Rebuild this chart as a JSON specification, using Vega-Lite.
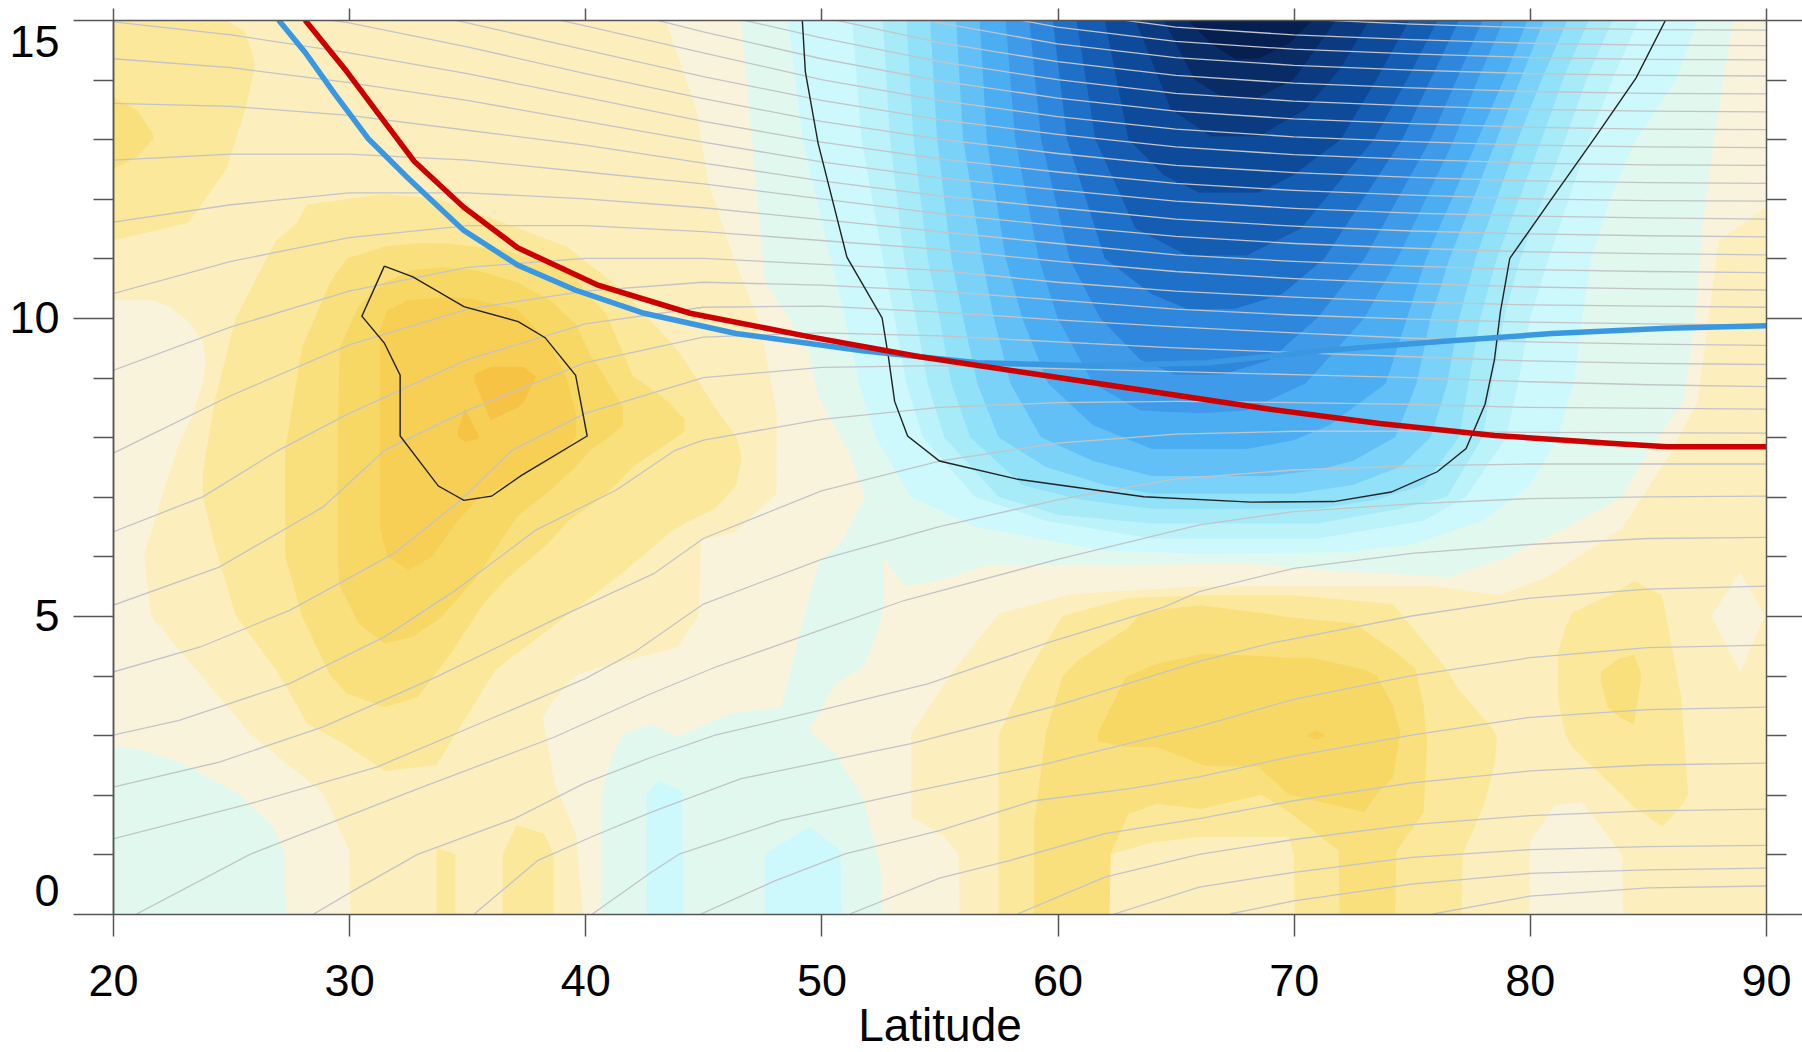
{
"$schema":"https://vega.github.io/schema/vega-lite/v6.json",
"width":1653,"height":894,
"autosize":{"type":"none"},
"padding":{"left":113,"top":20,"right":36,"bottom":138},
"config":{"view":{"stroke":null,"fill":"#fcefbd"},"axis":{"labelFont":"Liberation Sans","titleFont":"Liberation Sans","grid":false,"zindex":2}},
"resolve":{"axis":{"x":"independent","y":"independent"}},
"datasets":{
"fills":[
{"s":"CL1","lv":"c0","lat":20,"lo":0,"hi":6.0},{"s":"CL1","lv":"c0","lat":21.3,"lo":0,"hi":6.1},{"s":"CL1","lv":"c0","lat":21.6,"lo":0,"hi":5.0},{"s":"CL1","lv":"c0","lat":23.3,"lo":0,"hi":4.2},{"s":"CL1","lv":"c0","lat":25.8,"lo":0,"hi":3.03},{"s":"CL1","lv":"c0","lat":28.9,"lo":0,"hi":2.02},{"s":"CL1","lv":"c0","lat":30.0,"lo":0,"hi":1.07},{"s":"CL1","lv":"c0","lat":30.05,"lo":0,"hi":0},
{"s":"CL2","lv":"c0","lat":20,"lo":5.9,"hi":10.3},{"s":"CL2","lv":"c0","lat":21.3,"lo":6.0,"hi":10.3},{"s":"CL2","lv":"c0","lat":21.6,"lo":6.4,"hi":10.3},{"s":"CL2","lv":"c0","lat":22.3,"lo":7.3,"hi":10.2},{"s":"CL2","lv":"c0","lat":22.8,"lo":7.9,"hi":10.07},{"s":"CL2","lv":"c0","lat":23.3,"lo":8.3,"hi":9.9},{"s":"CL2","lv":"c0","lat":23.8,"lo":8.9,"hi":9.6},{"s":"CL2","lv":"c0","lat":23.9,"lo":9.2,"hi":9.3},
{"s":"CA","lv":"c0","lat":38.2,"lo":3.3,"hi":3.3},{"s":"CA","lv":"c0","lat":38.7,"lo":2.2,"hi":3.6},{"s":"CA","lv":"c0","lat":39.6,"lo":1.35,"hi":4.0},{"s":"CA","lv":"c0","lat":39.9,"lo":0,"hi":4.05},{"s":"CA","lv":"c0","lat":40.7,"lo":0,"hi":4.14},{"s":"CA","lv":"c0","lat":43.9,"lo":0,"hi":4.48},{"s":"CA","lv":"c0","lat":44.8,"lo":0,"hi":5.0},{"s":"CA","lv":"c0","lat":44.9,"lo":0,"hi":6.27},{"s":"CA","lv":"c0","lat":46.3,"lo":0,"hi":6.4},{"s":"CA","lv":"c0","lat":48.1,"lo":0,"hi":7.05},{"s":"CA","lv":"c0","lat":48.2,"lo":0,"hi":15},{"s":"CA","lv":"c0","lat":90,"lo":0,"hi":15},
{"s":"CB","lv":"c0","lat":43.4,"lo":15,"hi":15},{"s":"CB","lv":"c0","lat":44.7,"lo":13.5,"hi":15},{"s":"CB","lv":"c0","lat":45.2,"lo":12.3,"hi":15},{"s":"CB","lv":"c0","lat":46.3,"lo":11.0,"hi":15},{"s":"CB","lv":"c0","lat":47.4,"lo":9.9,"hi":15},{"s":"CB","lv":"c0","lat":48.3,"lo":8.0,"hi":15},
{"s":"L1R","lv":"y1","lat":53.8,"lo":1.63,"hi":3.03},{"s":"L1R","lv":"y1","lat":55.2,"lo":1.3,"hi":3.86},{"s":"L1R","lv":"y1","lat":55.8,"lo":1.01,"hi":4.2},{"s":"L1R","lv":"y1","lat":55.85,"lo":0,"hi":4.2},{"s":"L1R","lv":"y1","lat":57.5,"lo":0,"hi":5.04},{"s":"L1R","lv":"y1","lat":60.6,"lo":0,"hi":5.37},{"s":"L1R","lv":"y1","lat":66,"lo":0,"hi":5.5},{"s":"L1R","lv":"y1","lat":76,"lo":0,"hi":5.5},{"s":"L1R","lv":"y1","lat":78.7,"lo":0,"hi":5.35},{"s":"L1R","lv":"y1","lat":80.7,"lo":0,"hi":5.65},{"s":"L1R","lv":"y1","lat":83.9,"lo":0,"hi":6.47},{"s":"L1R","lv":"y1","lat":86.0,"lo":0,"hi":7.76},{"s":"L1R","lv":"y1","lat":87.1,"lo":0,"hi":8.6},{"s":"L1R","lv":"y1","lat":87.3,"lo":0,"hi":9.2},{"s":"L1R","lv":"y1","lat":88,"lo":0,"hi":11.3},{"s":"L1R","lv":"y1","lat":90,"lo":0,"hi":11.86},
{"s":"CP1","lv":"c0b","lat":80.0,"lo":0,"hi":1.2},{"s":"CP1","lv":"c0b","lat":81.05,"lo":0,"hi":1.82},{"s":"CP1","lv":"c0b","lat":82.2,"lo":0,"hi":1.88},{"s":"CP1","lv":"c0b","lat":83.9,"lo":0,"hi":1.0},{"s":"CP1","lv":"c0b","lat":83.95,"lo":0,"hi":0},
{"s":"CP2","lv":"c0b","lat":87.7,"lo":5.0,"hi":5.0},{"s":"CP2","lv":"c0b","lat":88.9,"lo":4.06,"hi":5.74},{"s":"CP2","lv":"c0b","lat":89.95,"lo":5.0,"hi":5.0},
{"s":"Y2TL","lv":"y2","lat":20,"lo":11.3,"hi":15},{"s":"Y2TL","lv":"y2","lat":23.2,"lo":11.6,"hi":15},{"s":"Y2TL","lv":"y2","lat":24.8,"lo":12.5,"hi":15},{"s":"Y2TL","lv":"y2","lat":25.6,"lo":13.5,"hi":14.8},{"s":"Y2TL","lv":"y2","lat":26.0,"lo":14.2,"hi":14.3},
{"s":"Y2B","lv":"y2","lat":23.8,"lo":7.0,"hi":7.4},{"s":"Y2B","lv":"y2","lat":24.3,"lo":6.2,"hi":8.6},{"s":"Y2B","lv":"y2","lat":25.2,"lo":5.0,"hi":10.0},{"s":"Y2B","lv":"y2","lat":26.9,"lo":4.1,"hi":11.3},{"s":"Y2B","lv":"y2","lat":27.8,"lo":3.5,"hi":11.6},{"s":"Y2B","lv":"y2","lat":28.2,"lo":3.2,"hi":11.9},{"s":"Y2B","lv":"y2","lat":30,"lo":2.8,"hi":12.0},{"s":"Y2B","lv":"y2","lat":31.5,"lo":2.4,"hi":12.08},{"s":"Y2B","lv":"y2","lat":33.7,"lo":2.5,"hi":12.0},{"s":"Y2B","lv":"y2","lat":36.2,"lo":4.1,"hi":11.65},{"s":"Y2B","lv":"y2","lat":39.2,"lo":5.0,"hi":11.2},{"s":"Y2B","lv":"y2","lat":41.5,"lo":5.7,"hi":10.5},{"s":"Y2B","lv":"y2","lat":43.6,"lo":6.4,"hi":9.6},{"s":"Y2B","lv":"y2","lat":44.2,"lo":6.55,"hi":9.3},{"s":"Y2B","lv":"y2","lat":45.5,"lo":6.8,"hi":8.5},{"s":"Y2B","lv":"y2","lat":46.4,"lo":7.2,"hi":8.0},{"s":"Y2B","lv":"y2","lat":46.6,"lo":7.6,"hi":7.7},
{"s":"Y2C1","lv":"y2","lat":33.7,"lo":0,"hi":1.12},{"s":"Y2C1","lv":"y2","lat":34.5,"lo":0,"hi":1.0},
{"s":"Y2C2","lv":"y2","lat":36.5,"lo":0,"hi":1.01},{"s":"Y2C2","lv":"y2","lat":37.1,"lo":0,"hi":1.49},{"s":"Y2C2","lv":"y2","lat":38.25,"lo":0,"hi":1.35},{"s":"Y2C2","lv":"y2","lat":38.66,"lo":0,"hi":1.01},
{"s":"Y2LR","lv":"y2","lat":57.5,"lo":0,"hi":3.0},{"s":"Y2LR","lv":"y2","lat":58.7,"lo":0,"hi":4.03},{"s":"Y2LR","lv":"y2","lat":60.2,"lo":0,"hi":5.0},{"s":"Y2LR","lv":"y2","lat":63,"lo":0,"hi":5.3},{"s":"Y2LR","lv":"y2","lat":66,"lo":0,"hi":5.35},{"s":"Y2LR","lv":"y2","lat":70,"lo":0,"hi":5.35},{"s":"Y2LR","lv":"y2","lat":74.2,"lo":0,"hi":5.2},{"s":"Y2LR","lv":"y2","lat":76.45,"lo":0,"hi":4.12},{"s":"Y2LR","lv":"y2","lat":77.1,"lo":0,"hi":3.7},{"s":"Y2LR","lv":"y2","lat":77.15,"lo":1.0,"hi":3.7},{"s":"Y2LR","lv":"y2","lat":78.1,"lo":1.88,"hi":3.25},{"s":"Y2LR","lv":"y2","lat":78.5,"lo":2.5,"hi":3.06},{"s":"Y2LR","lv":"y2","lat":78.6,"lo":2.9,"hi":2.95},
{"s":"Y2RB","lv":"y2","lat":81.2,"lo":3.6,"hi":4.4},{"s":"Y2RB","lv":"y2","lat":81.5,"lo":3.0,"hi":4.8},{"s":"Y2RB","lv":"y2","lat":81.8,"lo":2.8,"hi":5.06},{"s":"Y2RB","lv":"y2","lat":83.9,"lo":2.0,"hi":5.45},{"s":"Y2RB","lv":"y2","lat":84.4,"lo":1.8,"hi":5.59},{"s":"Y2RB","lv":"y2","lat":85.6,"lo":1.47,"hi":5.35},{"s":"Y2RB","lv":"y2","lat":86.4,"lo":1.8,"hi":3.65},{"s":"Y2RB","lv":"y2","lat":86.7,"lo":2.0,"hi":2.05},
{"s":"N1","lv":"y1b","lat":62.2,"lo":0,"hi":1.0},{"s":"N1","lv":"y1b","lat":64,"lo":0,"hi":1.2},{"s":"N1","lv":"y1b","lat":66,"lo":0,"hi":1.29},{"s":"N1","lv":"y1b","lat":69.8,"lo":0,"hi":1.29},{"s":"N1","lv":"y1b","lat":70.0,"lo":0,"hi":1.0},{"s":"N1","lv":"y1b","lat":70.05,"lo":0,"hi":0},
{"s":"Y3TL","lv":"y3","lat":20,"lo":12.5,"hi":13.7},{"s":"Y3TL","lv":"y3","lat":21.0,"lo":12.7,"hi":13.5},{"s":"Y3TL","lv":"y3","lat":21.7,"lo":13.0,"hi":13.08},
{"s":"Y3B","lv":"y3","lat":27.3,"lo":6.0,"hi":7.8},{"s":"Y3B","lv":"y3","lat":28.0,"lo":5.0,"hi":9.5},{"s":"Y3B","lv":"y3","lat":29.2,"lo":4.0,"hi":10.6},{"s":"Y3B","lv":"y3","lat":29.9,"lo":3.7,"hi":11.0},{"s":"Y3B","lv":"y3","lat":31.5,"lo":3.47,"hi":11.2},{"s":"Y3B","lv":"y3","lat":32.9,"lo":3.64,"hi":11.26},{"s":"Y3B","lv":"y3","lat":34.2,"lo":4.31,"hi":11.25},{"s":"Y3B","lv":"y3","lat":35.7,"lo":5.21,"hi":11.18},{"s":"Y3B","lv":"y3","lat":36.6,"lo":5.6,"hi":11.14},{"s":"Y3B","lv":"y3","lat":38.4,"lo":6.21,"hi":10.9},{"s":"Y3B","lv":"y3","lat":39.3,"lo":6.6,"hi":10.78},{"s":"Y3B","lv":"y3","lat":40.9,"lo":7.05,"hi":10.06},{"s":"Y3B","lv":"y3","lat":42.0,"lo":7.5,"hi":9.04},{"s":"Y3B","lv":"y3","lat":43.5,"lo":7.9,"hi":8.6},{"s":"Y3B","lv":"y3","lat":44.2,"lo":8.1,"hi":8.3},
{"s":"Y3LR","lv":"y3","lat":59.0,"lo":0,"hi":1.5},{"s":"Y3LR","lv":"y3","lat":59.5,"lo":0,"hi":3.03},{"s":"Y3LR","lv":"y3","lat":60.2,"lo":0,"hi":3.98},{"s":"Y3LR","lv":"y3","lat":60.9,"lo":0,"hi":4.26},{"s":"Y3LR","lv":"y3","lat":62.2,"lo":0,"hi":4.6},{"s":"Y3LR","lv":"y3","lat":62.25,"lo":1.01,"hi":4.62},{"s":"Y3LR","lv":"y3","lat":63.0,"lo":1.68,"hi":4.8},{"s":"Y3LR","lv":"y3","lat":63.5,"lo":1.75,"hi":5.04},{"s":"Y3LR","lv":"y3","lat":64.2,"lo":1.85,"hi":5.1},{"s":"Y3LR","lv":"y3","lat":66.05,"lo":1.76,"hi":5.18},{"s":"Y3LR","lv":"y3","lat":68.65,"lo":2.0,"hi":5.05},{"s":"Y3LR","lv":"y3","lat":69.8,"lo":1.71,"hi":4.98},{"s":"Y3LR","lv":"y3","lat":71.9,"lo":1.06,"hi":4.9},{"s":"Y3LR","lv":"y3","lat":71.95,"lo":0,"hi":4.9},{"s":"Y3LR","lv":"y3","lat":72.55,"lo":0,"hi":4.88},{"s":"Y3LR","lv":"y3","lat":74.3,"lo":0,"hi":4.4},{"s":"Y3LR","lv":"y3","lat":74.35,"lo":1.06,"hi":4.38},{"s":"Y3LR","lv":"y3","lat":75.15,"lo":1.5,"hi":4.12},{"s":"Y3LR","lv":"y3","lat":75.5,"lo":1.71,"hi":3.5},{"s":"Y3LR","lv":"y3","lat":75.6,"lo":2.5,"hi":3.06},{"s":"Y3LR","lv":"y3","lat":75.65,"lo":2.9,"hi":2.95},
{"s":"Y3RB","lv":"y3","lat":83.0,"lo":3.9,"hi":4.05},{"s":"Y3RB","lv":"y3","lat":83.3,"lo":3.47,"hi":4.15},{"s":"Y3RB","lv":"y3","lat":83.8,"lo":3.3,"hi":4.29},{"s":"Y3RB","lv":"y3","lat":84.4,"lo":3.18,"hi":4.35},{"s":"Y3RB","lv":"y3","lat":84.7,"lo":3.9,"hi":4.05},
{"s":"Y4B","lv":"y4","lat":29.5,"lo":6.0,"hi":7.8},{"s":"Y4B","lv":"y4","lat":29.6,"lo":5.5,"hi":9.5},{"s":"Y4B","lv":"y4","lat":30.4,"lo":4.87,"hi":10.2},{"s":"Y4B","lv":"y4","lat":31.5,"lo":4.54,"hi":10.6},{"s":"Y4B","lv":"y4","lat":32.7,"lo":4.65,"hi":10.8},{"s":"Y4B","lv":"y4","lat":33.9,"lo":4.98,"hi":10.85},{"s":"Y4B","lv":"y4","lat":35.4,"lo":5.65,"hi":10.8},{"s":"Y4B","lv":"y4","lat":37.1,"lo":6.66,"hi":10.6},{"s":"Y4B","lv":"y4","lat":38.5,"lo":7.1,"hi":10.3},{"s":"Y4B","lv":"y4","lat":39.6,"lo":7.5,"hi":9.9},{"s":"Y4B","lv":"y4","lat":40.2,"lo":7.78,"hi":9.4},{"s":"Y4B","lv":"y4","lat":41.0,"lo":8.0,"hi":8.9},{"s":"Y4B","lv":"y4","lat":41.6,"lo":8.2,"hi":8.5},
{"s":"Y4LR","lv":"y4","lat":61.7,"lo":2.9,"hi":3.03},{"s":"Y4LR","lv":"y4","lat":62.9,"lo":2.8,"hi":3.98},{"s":"Y4LR","lv":"y4","lat":64.2,"lo":2.8,"hi":4.2},{"s":"Y4LR","lv":"y4","lat":66.2,"lo":2.49,"hi":4.37},{"s":"Y4LR","lv":"y4","lat":68.5,"lo":2.47,"hi":4.33},{"s":"Y4LR","lv":"y4","lat":69.8,"lo":2.0,"hi":4.3},{"s":"Y4LR","lv":"y4","lat":70.9,"lo":1.9,"hi":4.29},{"s":"Y4LR","lv":"y4","lat":73.0,"lo":1.71,"hi":4.1},{"s":"Y4LR","lv":"y4","lat":73.5,"lo":2.0,"hi":4.0},{"s":"Y4LR","lv":"y4","lat":74.2,"lo":2.29,"hi":3.5},{"s":"Y4LR","lv":"y4","lat":74.5,"lo":3.0,"hi":3.06},
{"s":"Y5B","lv":"y5","lat":31.3,"lo":6.5,"hi":9.8},{"s":"Y5B","lv":"y5","lat":31.6,"lo":6.0,"hi":10.12},{"s":"Y5B","lv":"y5","lat":32.5,"lo":5.77,"hi":10.3},{"s":"Y5B","lv":"y5","lat":33.5,"lo":5.99,"hi":10.33},{"s":"Y5B","lv":"y5","lat":34.5,"lo":6.55,"hi":10.35},{"s":"Y5B","lv":"y5","lat":35.4,"lo":6.94,"hi":10.3},{"s":"Y5B","lv":"y5","lat":37.1,"lo":7.33,"hi":10.15},{"s":"Y5B","lv":"y5","lat":38.5,"lo":7.6,"hi":9.58},{"s":"Y5B","lv":"y5","lat":39.2,"lo":7.78,"hi":9.0},{"s":"Y5B","lv":"y5","lat":39.6,"lo":8.0,"hi":8.4},
{"s":"Y5LR","lv":"y5","lat":70.6,"lo":2.98,"hi":3.02},{"s":"Y5LR","lv":"y5","lat":70.9,"lo":2.92,"hi":3.08},{"s":"Y5LR","lv":"y5","lat":71.3,"lo":2.98,"hi":3.02},
{"s":"Y6P1","lv":"y6","lat":35.3,"lo":8.95,"hi":9.05},{"s":"Y6P1","lv":"y6","lat":36.0,"lo":8.28,"hi":9.18},{"s":"Y6P1","lv":"y6","lat":37.2,"lo":8.51,"hi":9.18},{"s":"Y6P1","lv":"y6","lat":37.4,"lo":8.6,"hi":9.18},{"s":"Y6P1","lv":"y6","lat":37.9,"lo":9.0,"hi":9.02},
{"s":"Y6P2","lv":"y6","lat":34.6,"lo":8.02,"hi":8.1},{"s":"Y6P2","lv":"y6","lat":34.9,"lo":7.92,"hi":8.48},{"s":"Y6P2","lv":"y6","lat":35.5,"lo":7.98,"hi":8.02},
{"s":"MBL","lv":"m1","lat":20,"lo":0,"hi":2.8},{"s":"MBL","lv":"m1","lat":21.1,"lo":0,"hi":2.77},{"s":"MBL","lv":"m1","lat":22.8,"lo":0,"hi":2.55},{"s":"MBL","lv":"m1","lat":25.3,"lo":0,"hi":2.02},{"s":"MBL","lv":"m1","lat":26.8,"lo":0,"hi":1.46},{"s":"MBL","lv":"m1","lat":27.3,"lo":0,"hi":0.96},{"s":"MBL","lv":"m1","lat":27.35,"lo":0,"hi":0},
{"s":"MLOW","lv":"m1","lat":40.7,"lo":0,"hi":2.02},{"s":"MLOW","lv":"m1","lat":41.1,"lo":0,"hi":2.6},{"s":"MLOW","lv":"m1","lat":41.6,"lo":0,"hi":3.03},{"s":"MLOW","lv":"m1","lat":42.8,"lo":0,"hi":3.19},{"s":"MLOW","lv":"m1","lat":43.9,"lo":0,"hi":2.97},{"s":"MLOW","lv":"m1","lat":46.1,"lo":0,"hi":3.36},{"s":"MLOW","lv":"m1","lat":48.3,"lo":0,"hi":3.47},{"s":"MLOW","lv":"m1","lat":49.3,"lo":0,"hi":5.04},{"s":"MLOW","lv":"m1","lat":49.9,"lo":0,"hi":5.88},{"s":"MLOW","lv":"m1","lat":50.9,"lo":0,"hi":6.27},{"s":"MLOW","lv":"m1","lat":51.85,"lo":0,"hi":7.0},{"s":"MLOW","lv":"m1","lat":52.6,"lo":0,"hi":7.5},{"s":"MLOW","lv":"m1","lat":52.65,"lo":5.0,"hi":7.5},
{"s":"MUP","lv":"m1","lat":46.6,"lo":15,"hi":15},{"s":"MUP","lv":"m1","lat":47.6,"lo":10.63,"hi":15},{"s":"MUP","lv":"m1","lat":49.4,"lo":9.51,"hi":15},{"s":"MUP","lv":"m1","lat":49.9,"lo":8.67,"hi":15},{"s":"MUP","lv":"m1","lat":51.2,"lo":7.72,"hi":15},{"s":"MUP","lv":"m1","lat":51.85,"lo":7.0,"hi":15},{"s":"MUP","lv":"m1","lat":52.6,"lo":6.0,"hi":15},{"s":"MUP","lv":"m1","lat":53.5,"lo":5.5,"hi":15},{"s":"MUP","lv":"m1","lat":55,"lo":5.6,"hi":15},{"s":"MUP","lv":"m1","lat":57,"lo":5.85,"hi":15},{"s":"MUP","lv":"m1","lat":62,"lo":5.85,"hi":15},{"s":"MUP","lv":"m1","lat":68,"lo":5.88,"hi":15},{"s":"MUP","lv":"m1","lat":72,"lo":5.75,"hi":15},{"s":"MUP","lv":"m1","lat":76.6,"lo":5.65,"hi":15},{"s":"MUP","lv":"m1","lat":79.1,"lo":6.0,"hi":15},{"s":"MUP","lv":"m1","lat":81.5,"lo":6.47,"hi":15},{"s":"MUP","lv":"m1","lat":83.9,"lo":7.0,"hi":15},{"s":"MUP","lv":"m1","lat":85.2,"lo":7.88,"hi":15},{"s":"MUP","lv":"m1","lat":86.5,"lo":8.6,"hi":15},{"s":"MUP","lv":"m1","lat":87.0,"lo":10.0,"hi":15},{"s":"MUP","lv":"m1","lat":87.3,"lo":11.5,"hi":15},{"s":"MUP","lv":"m1","lat":87.8,"lo":13.0,"hi":15},{"s":"MUP","lv":"m1","lat":88.3,"lo":14.2,"hi":15},{"s":"MUP","lv":"m1","lat":88.6,"lo":15,"hi":15},
{"s":"NOTCH","lv":"c0c","lat":49.5,"lo":3.05,"hi":3.1},{"s":"NOTCH","lv":"c0c","lat":50.6,"lo":2.69,"hi":3.87},{"s":"NOTCH","lv":"c0c","lat":51.8,"lo":1.91,"hi":4.15},{"s":"NOTCH","lv":"c0c","lat":52.5,"lo":0.79,"hi":4.9},{"s":"NOTCH","lv":"c0c","lat":52.6,"lo":0,"hi":5.1},{"s":"NOTCH","lv":"c0c","lat":52.7,"lo":0,"hi":5.2},
{"s":"BP1","lv":"b2","lat":42.6,"lo":0,"hi":2.02},{"s":"BP1","lv":"b2","lat":43.1,"lo":0,"hi":2.24},{"s":"BP1","lv":"b2","lat":44.1,"lo":0,"hi":2.05},{"s":"BP1","lv":"b2","lat":44.15,"lo":0,"hi":0},
{"s":"BP2","lv":"b2","lat":47.6,"lo":0,"hi":1.01},{"s":"BP2","lv":"b2","lat":49.5,"lo":0,"hi":1.46},{"s":"BP2","lv":"b2","lat":50.8,"lo":0,"hi":1.07},{"s":"BP2","lv":"b2","lat":50.85,"lo":0,"hi":0},
{"s":"U2","lv":"b2","lat":48.6,"lo":15,"hi":15},{"s":"U2","lv":"b2","lat":49.2,"lo":13,"hi":15},{"s":"U2","lv":"b2","lat":50.4,"lo":11,"hi":15},{"s":"U2","lv":"b2","lat":51.0,"lo":10,"hi":15},{"s":"U2","lv":"b2","lat":51.6,"lo":8.9,"hi":15},{"s":"U2","lv":"b2","lat":52.3,"lo":8.0,"hi":15},{"s":"U2","lv":"b2","lat":53.8,"lo":7.0,"hi":15},{"s":"U2","lv":"b2","lat":56.5,"lo":6.5,"hi":15},{"s":"U2","lv":"b2","lat":62,"lo":6.1,"hi":15},{"s":"U2","lv":"b2","lat":66,"lo":6.05,"hi":15},{"s":"U2","lv":"b2","lat":72,"lo":6.07,"hi":15},{"s":"U2","lv":"b2","lat":75,"lo":6.2,"hi":15},{"s":"U2","lv":"b2","lat":78,"lo":6.6,"hi":15},{"s":"U2","lv":"b2","lat":80,"lo":7.2,"hi":15},{"s":"U2","lv":"b2","lat":81.2,"lo":8,"hi":15},{"s":"U2","lv":"b2","lat":81.9,"lo":9,"hi":15},{"s":"U2","lv":"b2","lat":82.2,"lo":10,"hi":15},{"s":"U2","lv":"b2","lat":82.6,"lo":11,"hi":15},{"s":"U2","lv":"b2","lat":83.4,"lo":12,"hi":15},{"s":"U2","lv":"b2","lat":84.5,"lo":13,"hi":15},{"s":"U2","lv":"b2","lat":86.2,"lo":14,"hi":15},{"s":"U2","lv":"b2","lat":87.1,"lo":15,"hi":15},
{"s":"U3","lv":"b3","lat":51.3,"lo":15,"hi":15},{"s":"U3","lv":"b3","lat":51.7,"lo":13,"hi":15},{"s":"U3","lv":"b3","lat":52.6,"lo":11,"hi":15},{"s":"U3","lv":"b3","lat":53.1,"lo":10,"hi":15},{"s":"U3","lv":"b3","lat":53.6,"lo":8.9,"hi":15},{"s":"U3","lv":"b3","lat":54.3,"lo":8,"hi":15},{"s":"U3","lv":"b3","lat":56.5,"lo":7,"hi":15},{"s":"U3","lv":"b3","lat":59.5,"lo":6.6,"hi":15},{"s":"U3","lv":"b3","lat":64,"lo":6.3,"hi":15},{"s":"U3","lv":"b3","lat":71,"lo":6.3,"hi":15},{"s":"U3","lv":"b3","lat":75.5,"lo":6.6,"hi":15},{"s":"U3","lv":"b3","lat":77.3,"lo":7,"hi":15},{"s":"U3","lv":"b3","lat":79,"lo":8,"hi":15},{"s":"U3","lv":"b3","lat":79.5,"lo":8.9,"hi":15},{"s":"U3","lv":"b3","lat":80,"lo":10,"hi":15},{"s":"U3","lv":"b3","lat":80.8,"lo":11,"hi":15},{"s":"U3","lv":"b3","lat":82.5,"lo":13,"hi":15},{"s":"U3","lv":"b3","lat":83.5,"lo":14,"hi":15},{"s":"U3","lv":"b3","lat":84.6,"lo":15,"hi":15},
{"s":"U4","lv":"b4","lat":52.6,"lo":15,"hi":15},{"s":"U4","lv":"b4","lat":52.9,"lo":13,"hi":15},{"s":"U4","lv":"b4","lat":53.5,"lo":11,"hi":15},{"s":"U4","lv":"b4","lat":54.0,"lo":10,"hi":15},{"s":"U4","lv":"b4","lat":54.5,"lo":8.9,"hi":15},{"s":"U4","lv":"b4","lat":55.2,"lo":8,"hi":15},{"s":"U4","lv":"b4","lat":57.5,"lo":7,"hi":15},{"s":"U4","lv":"b4","lat":60,"lo":6.7,"hi":15},{"s":"U4","lv":"b4","lat":64,"lo":6.55,"hi":15},{"s":"U4","lv":"b4","lat":71,"lo":6.55,"hi":15},{"s":"U4","lv":"b4","lat":74.5,"lo":6.8,"hi":15},{"s":"U4","lv":"b4","lat":76.5,"lo":7,"hi":15},{"s":"U4","lv":"b4","lat":78,"lo":8,"hi":15},{"s":"U4","lv":"b4","lat":78.4,"lo":8.9,"hi":15},{"s":"U4","lv":"b4","lat":78.9,"lo":10,"hi":15},{"s":"U4","lv":"b4","lat":79.6,"lo":11,"hi":15},{"s":"U4","lv":"b4","lat":81.5,"lo":13,"hi":15},{"s":"U4","lv":"b4","lat":82.4,"lo":14,"hi":15},{"s":"U4","lv":"b4","lat":83.5,"lo":15,"hi":15},
{"s":"U5","lv":"b5","lat":53.6,"lo":15,"hi":15},{"s":"U5","lv":"b5","lat":53.9,"lo":13,"hi":15},{"s":"U5","lv":"b5","lat":54.5,"lo":11,"hi":15},{"s":"U5","lv":"b5","lat":55.0,"lo":10,"hi":15},{"s":"U5","lv":"b5","lat":55.5,"lo":8.9,"hi":15},{"s":"U5","lv":"b5","lat":56.3,"lo":8,"hi":15},{"s":"U5","lv":"b5","lat":58.5,"lo":7.2,"hi":15},{"s":"U5","lv":"b5","lat":61,"lo":6.95,"hi":15},{"s":"U5","lv":"b5","lat":64,"lo":6.8,"hi":15},{"s":"U5","lv":"b5","lat":71,"lo":6.8,"hi":15},{"s":"U5","lv":"b5","lat":73.5,"lo":6.95,"hi":15},{"s":"U5","lv":"b5","lat":75.5,"lo":7.2,"hi":15},{"s":"U5","lv":"b5","lat":77.0,"lo":8,"hi":15},{"s":"U5","lv":"b5","lat":77.4,"lo":8.9,"hi":15},{"s":"U5","lv":"b5","lat":77.9,"lo":10,"hi":15},{"s":"U5","lv":"b5","lat":78.6,"lo":11,"hi":15},{"s":"U5","lv":"b5","lat":80.5,"lo":13,"hi":15},{"s":"U5","lv":"b5","lat":81.4,"lo":14,"hi":15},{"s":"U5","lv":"b5","lat":82.5,"lo":15,"hi":15},
{"s":"U6","lv":"b6","lat":54.6,"lo":15,"hi":15},{"s":"U6","lv":"b6","lat":54.9,"lo":13,"hi":15},{"s":"U6","lv":"b6","lat":55.5,"lo":11,"hi":15},{"s":"U6","lv":"b6","lat":56.0,"lo":10,"hi":15},{"s":"U6","lv":"b6","lat":56.6,"lo":8.9,"hi":15},{"s":"U6","lv":"b6","lat":57.5,"lo":8,"hi":15},{"s":"U6","lv":"b6","lat":59.5,"lo":7.5,"hi":15},{"s":"U6","lv":"b6","lat":62,"lo":7.2,"hi":15},{"s":"U6","lv":"b6","lat":64,"lo":7.05,"hi":15},{"s":"U6","lv":"b6","lat":70,"lo":7.05,"hi":15},{"s":"U6","lv":"b6","lat":72.5,"lo":7.2,"hi":15},{"s":"U6","lv":"b6","lat":74.5,"lo":7.5,"hi":15},{"s":"U6","lv":"b6","lat":75.8,"lo":8,"hi":15},{"s":"U6","lv":"b6","lat":76.5,"lo":8.9,"hi":15},{"s":"U6","lv":"b6","lat":77.0,"lo":10,"hi":15},{"s":"U6","lv":"b6","lat":77.7,"lo":11,"hi":15},{"s":"U6","lv":"b6","lat":79.5,"lo":13,"hi":15},{"s":"U6","lv":"b6","lat":80.5,"lo":14,"hi":15},{"s":"U6","lv":"b6","lat":81.6,"lo":15,"hi":15},
{"s":"U7","lv":"b7","lat":55.7,"lo":15,"hi":15},{"s":"U7","lv":"b7","lat":56.0,"lo":13,"hi":15},{"s":"U7","lv":"b7","lat":56.8,"lo":11,"hi":15},{"s":"U7","lv":"b7","lat":57.3,"lo":10,"hi":15},{"s":"U7","lv":"b7","lat":58.0,"lo":8.9,"hi":15},{"s":"U7","lv":"b7","lat":59.3,"lo":8,"hi":15},{"s":"U7","lv":"b7","lat":61.5,"lo":7.6,"hi":15},{"s":"U7","lv":"b7","lat":64,"lo":7.35,"hi":15},{"s":"U7","lv":"b7","lat":69,"lo":7.35,"hi":15},{"s":"U7","lv":"b7","lat":71,"lo":7.45,"hi":15},{"s":"U7","lv":"b7","lat":72.5,"lo":7.6,"hi":15},{"s":"U7","lv":"b7","lat":74.3,"lo":8,"hi":15},{"s":"U7","lv":"b7","lat":75.2,"lo":8.9,"hi":15},{"s":"U7","lv":"b7","lat":75.8,"lo":10,"hi":15},{"s":"U7","lv":"b7","lat":76.6,"lo":11,"hi":15},{"s":"U7","lv":"b7","lat":78.6,"lo":13,"hi":15},{"s":"U7","lv":"b7","lat":79.6,"lo":14,"hi":15},{"s":"U7","lv":"b7","lat":80.6,"lo":15,"hi":15},
{"s":"U8","lv":"b8","lat":56.7,"lo":15,"hi":15},{"s":"U8","lv":"b8","lat":57.0,"lo":13,"hi":15},{"s":"U8","lv":"b8","lat":57.8,"lo":11,"hi":15},{"s":"U8","lv":"b8","lat":58.5,"lo":10,"hi":15},{"s":"U8","lv":"b8","lat":59.6,"lo":8.9,"hi":15},{"s":"U8","lv":"b8","lat":61.5,"lo":8.2,"hi":15},{"s":"U8","lv":"b8","lat":64,"lo":7.8,"hi":15},{"s":"U8","lv":"b8","lat":68,"lo":7.8,"hi":15},{"s":"U8","lv":"b8","lat":70,"lo":7.95,"hi":15},{"s":"U8","lv":"b8","lat":71.5,"lo":8.2,"hi":15},{"s":"U8","lv":"b8","lat":73.9,"lo":8.9,"hi":15},{"s":"U8","lv":"b8","lat":74.8,"lo":10,"hi":15},{"s":"U8","lv":"b8","lat":75.6,"lo":11,"hi":15},{"s":"U8","lv":"b8","lat":77.8,"lo":13,"hi":15},{"s":"U8","lv":"b8","lat":78.9,"lo":14,"hi":15},{"s":"U8","lv":"b8","lat":79.9,"lo":15,"hi":15},
{"s":"U9","lv":"b9","lat":57.8,"lo":15,"hi":15},{"s":"U9","lv":"b9","lat":58.2,"lo":13,"hi":15},{"s":"U9","lv":"b9","lat":59.2,"lo":11,"hi":15},{"s":"U9","lv":"b9","lat":60.0,"lo":10,"hi":15},{"s":"U9","lv":"b9","lat":61.5,"lo":8.9,"hi":15},{"s":"U9","lv":"b9","lat":63.5,"lo":8.45,"hi":15},{"s":"U9","lv":"b9","lat":66,"lo":8.4,"hi":15},{"s":"U9","lv":"b9","lat":68,"lo":8.45,"hi":15},{"s":"U9","lv":"b9","lat":70.5,"lo":8.9,"hi":15},{"s":"U9","lv":"b9","lat":73.0,"lo":10,"hi":15},{"s":"U9","lv":"b9","lat":74.4,"lo":11,"hi":15},{"s":"U9","lv":"b9","lat":76.8,"lo":13,"hi":15},{"s":"U9","lv":"b9","lat":77.8,"lo":14,"hi":15},{"s":"U9","lv":"b9","lat":78.9,"lo":15,"hi":15},
{"s":"U10","lv":"b10","lat":58.8,"lo":15,"hi":15},{"s":"U10","lv":"b10","lat":59.3,"lo":13,"hi":15},{"s":"U10","lv":"b10","lat":60.5,"lo":11,"hi":15},{"s":"U10","lv":"b10","lat":61.8,"lo":10,"hi":15},{"s":"U10","lv":"b10","lat":63.5,"lo":9.3,"hi":15},{"s":"U10","lv":"b10","lat":65,"lo":9.05,"hi":15},{"s":"U10","lv":"b10","lat":67,"lo":9.05,"hi":15},{"s":"U10","lv":"b10","lat":69,"lo":9.3,"hi":15},{"s":"U10","lv":"b10","lat":71.0,"lo":10,"hi":15},{"s":"U10","lv":"b10","lat":73.0,"lo":11,"hi":15},{"s":"U10","lv":"b10","lat":75.8,"lo":13,"hi":15},{"s":"U10","lv":"b10","lat":76.9,"lo":14,"hi":15},{"s":"U10","lv":"b10","lat":78.0,"lo":15,"hi":15},
{"s":"U11","lv":"b11","lat":59.8,"lo":15,"hi":15},{"s":"U11","lv":"b11","lat":60.4,"lo":13,"hi":15},{"s":"U11","lv":"b11","lat":62.0,"lo":11,"hi":15},{"s":"U11","lv":"b11","lat":64,"lo":10.4,"hi":15},{"s":"U11","lv":"b11","lat":65.5,"lo":10.15,"hi":15},{"s":"U11","lv":"b11","lat":67.5,"lo":10.15,"hi":15},{"s":"U11","lv":"b11","lat":69.5,"lo":10.4,"hi":15},{"s":"U11","lv":"b11","lat":71.3,"lo":11,"hi":15},{"s":"U11","lv":"b11","lat":74.6,"lo":13,"hi":15},{"s":"U11","lv":"b11","lat":75.8,"lo":14,"hi":15},{"s":"U11","lv":"b11","lat":77.0,"lo":15,"hi":15},
{"s":"U12","lv":"b12","lat":60.8,"lo":15,"hi":15},{"s":"U12","lv":"b12","lat":61.6,"lo":13,"hi":15},{"s":"U12","lv":"b12","lat":63.3,"lo":11.5,"hi":15},{"s":"U12","lv":"b12","lat":65.5,"lo":11.05,"hi":15},{"s":"U12","lv":"b12","lat":68,"lo":11.05,"hi":15},{"s":"U12","lv":"b12","lat":70.3,"lo":11.5,"hi":15},{"s":"U12","lv":"b12","lat":73.4,"lo":13,"hi":15},{"s":"U12","lv":"b12","lat":74.8,"lo":14,"hi":15},{"s":"U12","lv":"b12","lat":76.1,"lo":15,"hi":15},
{"s":"U13","lv":"b13","lat":62.0,"lo":15,"hi":15},{"s":"U13","lv":"b13","lat":63.0,"lo":13,"hi":15},{"s":"U13","lv":"b13","lat":64.5,"lo":12.4,"hi":15},{"s":"U13","lv":"b13","lat":66,"lo":12.1,"hi":15},{"s":"U13","lv":"b13","lat":68.5,"lo":12.1,"hi":15},{"s":"U13","lv":"b13","lat":70,"lo":12.4,"hi":15},{"s":"U13","lv":"b13","lat":72,"lo":13,"hi":15},{"s":"U13","lv":"b13","lat":73.5,"lo":14,"hi":15},{"s":"U13","lv":"b13","lat":74.9,"lo":15,"hi":15},
{"s":"U14","lv":"b14","lat":63.3,"lo":15,"hi":15},{"s":"U14","lv":"b14","lat":64.8,"lo":13.5,"hi":15},{"s":"U14","lv":"b14","lat":66.5,"lo":13.05,"hi":15},{"s":"U14","lv":"b14","lat":68.5,"lo":13.05,"hi":15},{"s":"U14","lv":"b14","lat":70.5,"lo":13.5,"hi":15},{"s":"U14","lv":"b14","lat":72,"lo":14.2,"hi":15},{"s":"U14","lv":"b14","lat":73.2,"lo":15,"hi":15},
{"s":"U15","lv":"b15","lat":64.5,"lo":15,"hi":15},{"s":"U15","lv":"b15","lat":65.8,"lo":14,"hi":15},{"s":"U15","lv":"b15","lat":67,"lo":13.7,"hi":15},{"s":"U15","lv":"b15","lat":68.5,"lo":13.7,"hi":15},{"s":"U15","lv":"b15","lat":70,"lo":14,"hi":15},{"s":"U15","lv":"b15","lat":71.8,"lo":15,"hi":15},
{"s":"U16","lv":"b16","lat":65.5,"lo":15,"hi":15},{"s":"U16","lv":"b16","lat":66.5,"lo":14.6,"hi":15},{"s":"U16","lv":"b16","lat":67.5,"lo":14.35,"hi":15},{"s":"U16","lv":"b16","lat":68.5,"lo":14.35,"hi":15},{"s":"U16","lv":"b16","lat":69.8,"lo":14.6,"hi":15},{"s":"U16","lv":"b16","lat":70.8,"lo":15,"hi":15}
],
"isen":[
{"id":"B75","lat":75.9,"z":0},{"id":"B75","lat":80,"z":0.3},{"id":"B75","lat":85,"z":0.44},{"id":"B75","lat":90,"z":0.47},
{"id":"B67","lat":67.3,"z":0},{"id":"B67","lat":70,"z":0.22},{"id":"B67","lat":75,"z":0.5},{"id":"B67","lat":80,"z":0.68},{"id":"B67","lat":85,"z":0.74},{"id":"B67","lat":90,"z":0.77},
{"id":"B62","lat":62.4,"z":0},{"id":"B62","lat":66,"z":0.45},{"id":"B62","lat":70,"z":0.7},{"id":"B62","lat":75,"z":0.95},{"id":"B62","lat":80,"z":1.08},{"id":"B62","lat":85,"z":1.13},{"id":"B62","lat":90,"z":1.15},
{"id":"B58","lat":58.3,"z":0},{"id":"B58","lat":62,"z":0.62},{"id":"B58","lat":66,"z":1.0},{"id":"B58","lat":70,"z":1.25},{"id":"B58","lat":75,"z":1.5},{"id":"B58","lat":80,"z":1.65},{"id":"B58","lat":85,"z":1.73},{"id":"B58","lat":90,"z":1.76},
{"id":"B51","lat":51.2,"z":0},{"id":"B51","lat":55,"z":0.6},{"id":"B51","lat":58,"z":0.9},{"id":"B51","lat":62,"z":1.35},{"id":"B51","lat":66,"z":1.6},{"id":"B51","lat":70,"z":1.9},{"id":"B51","lat":75,"z":2.2},{"id":"B51","lat":80,"z":2.4},{"id":"B51","lat":85,"z":2.5},{"id":"B51","lat":90,"z":2.53},
{"id":"B45","lat":44.9,"z":0},{"id":"B45","lat":48,"z":0.55},{"id":"B45","lat":51,"z":1.01},{"id":"B45","lat":55,"z":1.4},{"id":"B45","lat":59,"z":1.9},{"id":"B45","lat":63,"z":2.1},{"id":"B45","lat":66,"z":2.3},{"id":"B45","lat":70,"z":2.65},{"id":"B45","lat":75,"z":3.0},{"id":"B45","lat":80,"z":3.3},{"id":"B45","lat":85,"z":3.43},{"id":"B45","lat":90,"z":3.47},
{"id":"B40","lat":40.3,"z":0},{"id":"B40","lat":42.8,"z":0.7},{"id":"B40","lat":44,"z":1.01},{"id":"B40","lat":48.3,"z":1.57},{"id":"B40","lat":53.8,"z":2.05},{"id":"B40","lat":59.5,"z":2.52},{"id":"B40","lat":63.5,"z":2.91},{"id":"B40","lat":66,"z":3.15},{"id":"B40","lat":70,"z":3.6},{"id":"B40","lat":75,"z":4.0},{"id":"B40","lat":80,"z":4.3},{"id":"B40","lat":85,"z":4.47},{"id":"B40","lat":90,"z":4.51},
{"id":"B35","lat":35.3,"z":0},{"id":"B35","lat":38,"z":0.9},{"id":"B35","lat":40.3,"z":1.3},{"id":"B35","lat":42.8,"z":1.71},{"id":"B35","lat":46.6,"z":2.27},{"id":"B35","lat":53.8,"z":2.86},{"id":"B35","lat":60,"z":3.5},{"id":"B35","lat":66,"z":4.24},{"id":"B35","lat":69,"z":4.54},{"id":"B35","lat":75,"z":5.0},{"id":"B35","lat":80,"z":5.3},{"id":"B35","lat":85,"z":5.45},{"id":"B35","lat":90,"z":5.5},
{"id":"B28","lat":28.5,"z":0},{"id":"B28","lat":30,"z":0.35},{"id":"B28","lat":32.9,"z":1.0},{"id":"B28","lat":37,"z":1.6},{"id":"B28","lat":40,"z":2.2},{"id":"B28","lat":42.8,"z":2.63},{"id":"B28","lat":45.5,"z":3.0},{"id":"B28","lat":50.5,"z":3.47},{"id":"B28","lat":54.5,"z":3.86},{"id":"B28","lat":59.5,"z":4.54},{"id":"B28","lat":64.5,"z":5.15},{"id":"B28","lat":66,"z":5.41},{"id":"B28","lat":70,"z":5.8},{"id":"B28","lat":75,"z":6.05},{"id":"B28","lat":80,"z":6.2},{"id":"B28","lat":85,"z":6.3},{"id":"B28","lat":90,"z":6.32},
{"id":"B21","lat":21,"z":0},{"id":"B21","lat":25.8,"z":1.0},{"id":"B21","lat":32.9,"z":2.1},{"id":"B21","lat":38.7,"z":2.97},{"id":"B21","lat":42.8,"z":3.7},{"id":"B21","lat":45.5,"z":4.14},{"id":"B21","lat":49.5,"z":4.7},{"id":"B21","lat":53.5,"z":5.26},{"id":"B21","lat":60,"z":5.95},{"id":"B21","lat":66,"z":6.53},{"id":"B21","lat":70,"z":6.75},{"id":"B21","lat":75,"z":6.88},{"id":"B21","lat":80,"z":6.97},{"id":"B21","lat":85,"z":7.0},{"id":"B21","lat":90,"z":7.01},
{"id":"L1","lat":20,"z":1.26},{"id":"L1","lat":25.8,"z":1.85},{"id":"L1","lat":31.2,"z":2.47},{"id":"L1","lat":36.2,"z":3.31},{"id":"L1","lat":40,"z":3.95},{"id":"L1","lat":42.1,"z":4.4},{"id":"L1","lat":45,"z":5.2},{"id":"L1","lat":50,"z":5.95},{"id":"L1","lat":55,"z":6.5},{"id":"L1","lat":60,"z":6.95},{"id":"L1","lat":65,"z":7.3},{"id":"L1","lat":70,"z":7.45},{"id":"L1","lat":75,"z":7.52},{"id":"L1","lat":80,"z":7.55},{"id":"L1","lat":90,"z":7.55},
{"id":"L2","lat":20,"z":2.13},{"id":"L2","lat":24.5,"z":2.55},{"id":"L2","lat":28.9,"z":3.14},{"id":"L2","lat":33.7,"z":3.98},{"id":"L2","lat":38.9,"z":4.98},{"id":"L2","lat":42.9,"z":5.71},{"id":"L2","lat":45,"z":6.3},{"id":"L2","lat":50,"z":7.1},{"id":"L2","lat":55,"z":7.6},{"id":"L2","lat":60,"z":7.9},{"id":"L2","lat":65,"z":8.05},{"id":"L2","lat":70,"z":8.1},{"id":"L2","lat":75,"z":8.1},{"id":"L2","lat":80,"z":8.08},{"id":"L2","lat":90,"z":8.07},
{"id":"L3","lat":20,"z":3.0},{"id":"L3","lat":22.8,"z":3.25},{"id":"L3","lat":27.5,"z":3.87},{"id":"L3","lat":31.5,"z":4.65},{"id":"L3","lat":34.5,"z":5.43},{"id":"L3","lat":37.9,"z":6.44},{"id":"L3","lat":41.3,"z":7.11},{"id":"L3","lat":43.8,"z":7.78},{"id":"L3","lat":45,"z":7.95},{"id":"L3","lat":50,"z":8.3},{"id":"L3","lat":55,"z":8.5},{"id":"L3","lat":60,"z":8.58},{"id":"L3","lat":65,"z":8.6},{"id":"L3","lat":70,"z":8.58},{"id":"L3","lat":75,"z":8.55},{"id":"L3","lat":80,"z":8.5},{"id":"L3","lat":90,"z":8.47},
{"id":"L4","lat":20,"z":4.06},{"id":"L4","lat":23.7,"z":4.48},{"id":"L4","lat":27.5,"z":5.1},{"id":"L4","lat":31.9,"z":6.05},{"id":"L4","lat":34.6,"z":6.9},{"id":"L4","lat":36.9,"z":7.78},{"id":"L4","lat":40,"z":8.4},{"id":"L4","lat":45,"z":9.0},{"id":"L4","lat":50,"z":9.17},{"id":"L4","lat":55,"z":9.2},{"id":"L4","lat":60,"z":9.15},{"id":"L4","lat":65,"z":9.1},{"id":"L4","lat":70,"z":9.05},{"id":"L4","lat":75,"z":9.0},{"id":"L4","lat":80,"z":8.93},{"id":"L4","lat":85,"z":8.88},{"id":"L4","lat":90,"z":8.85},
{"id":"L5","lat":20,"z":5.18},{"id":"L5","lat":24.5,"z":5.82},{"id":"L5","lat":28.9,"z":6.83},{"id":"L5","lat":31.5,"z":7.78},{"id":"L5","lat":35,"z":8.45},{"id":"L5","lat":40,"z":9.25},{"id":"L5","lat":45,"z":9.68},{"id":"L5","lat":50,"z":9.75},{"id":"L5","lat":55,"z":9.7},{"id":"L5","lat":60,"z":9.6},{"id":"L5","lat":65,"z":9.5},{"id":"L5","lat":70,"z":9.42},{"id":"L5","lat":75,"z":9.35},{"id":"L5","lat":80,"z":9.28},{"id":"L5","lat":85,"z":9.24},{"id":"L5","lat":90,"z":9.22},
{"id":"L6","lat":20,"z":6.41},{"id":"L6","lat":23.8,"z":7.0},{"id":"L6","lat":27,"z":7.78},{"id":"L6","lat":30,"z":8.4},{"id":"L6","lat":35,"z":9.3},{"id":"L6","lat":40,"z":9.9},{"id":"L6","lat":45,"z":10.18},{"id":"L6","lat":50,"z":10.2},{"id":"L6","lat":55,"z":10.1},{"id":"L6","lat":60,"z":9.97},{"id":"L6","lat":65,"z":9.85},{"id":"L6","lat":70,"z":9.75},{"id":"L6","lat":75,"z":9.66},{"id":"L6","lat":80,"z":9.6},{"id":"L6","lat":85,"z":9.56},{"id":"L6","lat":90,"z":9.54},
{"id":"L7","lat":20,"z":7.73},{"id":"L7","lat":25,"z":8.7},{"id":"L7","lat":30,"z":9.55},{"id":"L7","lat":35,"z":10.15},{"id":"L7","lat":40,"z":10.45},{"id":"L7","lat":45,"z":10.6},{"id":"L7","lat":50,"z":10.55},{"id":"L7","lat":55,"z":10.45},{"id":"L7","lat":60,"z":10.3},{"id":"L7","lat":65,"z":10.15},{"id":"L7","lat":70,"z":10.05},{"id":"L7","lat":75,"z":9.98},{"id":"L7","lat":80,"z":9.93},{"id":"L7","lat":85,"z":9.9},{"id":"L7","lat":90,"z":9.88},
{"id":"L8","lat":20,"z":9.12},{"id":"L8","lat":25,"z":9.85},{"id":"L8","lat":30,"z":10.45},{"id":"L8","lat":35,"z":10.85},{"id":"L8","lat":40,"z":11.0},{"id":"L8","lat":45,"z":11.0},{"id":"L8","lat":50,"z":10.9},{"id":"L8","lat":55,"z":10.8},{"id":"L8","lat":60,"z":10.6},{"id":"L8","lat":65,"z":10.45},{"id":"L8","lat":70,"z":10.35},{"id":"L8","lat":75,"z":10.27},{"id":"L8","lat":80,"z":10.22},{"id":"L8","lat":85,"z":10.2},{"id":"L8","lat":90,"z":10.18},
{"id":"L9","lat":20,"z":10.41},{"id":"L9","lat":25,"z":10.95},{"id":"L9","lat":30,"z":11.35},{"id":"L9","lat":35,"z":11.55},{"id":"L9","lat":40,"z":11.55},{"id":"L9","lat":45,"z":11.45},{"id":"L9","lat":50,"z":11.3},{"id":"L9","lat":55,"z":11.15},{"id":"L9","lat":60,"z":10.95},{"id":"L9","lat":65,"z":10.78},{"id":"L9","lat":70,"z":10.66},{"id":"L9","lat":75,"z":10.58},{"id":"L9","lat":80,"z":10.52},{"id":"L9","lat":85,"z":10.49},{"id":"L9","lat":90,"z":10.47},
{"id":"L10","lat":20,"z":11.61},{"id":"L10","lat":25,"z":11.9},{"id":"L10","lat":30,"z":12.1},{"id":"L10","lat":35,"z":12.1},{"id":"L10","lat":40,"z":12.0},{"id":"L10","lat":45,"z":11.85},{"id":"L10","lat":50,"z":11.65},{"id":"L10","lat":55,"z":11.45},{"id":"L10","lat":60,"z":11.25},{"id":"L10","lat":65,"z":11.06},{"id":"L10","lat":70,"z":10.95},{"id":"L10","lat":75,"z":10.87},{"id":"L10","lat":80,"z":10.81},{"id":"L10","lat":85,"z":10.78},{"id":"L10","lat":90,"z":10.76},
{"id":"L11","lat":20,"z":12.65},{"id":"L11","lat":25,"z":12.75},{"id":"L11","lat":30,"z":12.75},{"id":"L11","lat":35,"z":12.65},{"id":"L11","lat":40,"z":12.45},{"id":"L11","lat":45,"z":12.25},{"id":"L11","lat":50,"z":12.0},{"id":"L11","lat":55,"z":11.75},{"id":"L11","lat":60,"z":11.55},{"id":"L11","lat":65,"z":11.37},{"id":"L11","lat":70,"z":11.25},{"id":"L11","lat":75,"z":11.17},{"id":"L11","lat":80,"z":11.11},{"id":"L11","lat":85,"z":11.08},{"id":"L11","lat":90,"z":11.06},
{"id":"L12","lat":20,"z":13.6},{"id":"L12","lat":25,"z":13.55},{"id":"L12","lat":30,"z":13.4},{"id":"L12","lat":35,"z":13.15},{"id":"L12","lat":40,"z":12.9},{"id":"L12","lat":45,"z":12.6},{"id":"L12","lat":50,"z":12.3},{"id":"L12","lat":55,"z":12.05},{"id":"L12","lat":60,"z":11.85},{"id":"L12","lat":65,"z":11.66},{"id":"L12","lat":70,"z":11.54},{"id":"L12","lat":75,"z":11.46},{"id":"L12","lat":80,"z":11.41},{"id":"L12","lat":85,"z":11.38},{"id":"L12","lat":90,"z":11.36},
{"id":"L13","lat":20,"z":14.35},{"id":"L13","lat":25,"z":14.2},{"id":"L13","lat":30,"z":13.95},{"id":"L13","lat":35,"z":13.65},{"id":"L13","lat":40,"z":13.3},{"id":"L13","lat":45,"z":12.95},{"id":"L13","lat":50,"z":12.62},{"id":"L13","lat":55,"z":12.35},{"id":"L13","lat":60,"z":12.15},{"id":"L13","lat":65,"z":11.96},{"id":"L13","lat":70,"z":11.84},{"id":"L13","lat":75,"z":11.76},{"id":"L13","lat":80,"z":11.71},{"id":"L13","lat":85,"z":11.68},{"id":"L13","lat":90,"z":11.66},
{"id":"L14","lat":20,"z":14.97},{"id":"L14","lat":25,"z":14.75},{"id":"L14","lat":30,"z":14.45},{"id":"L14","lat":35,"z":14.1},{"id":"L14","lat":40,"z":13.7},{"id":"L14","lat":45,"z":13.3},{"id":"L14","lat":50,"z":12.95},{"id":"L14","lat":55,"z":12.67},{"id":"L14","lat":60,"z":12.45},{"id":"L14","lat":65,"z":12.26},{"id":"L14","lat":70,"z":12.14},{"id":"L14","lat":75,"z":12.06},{"id":"L14","lat":80,"z":12.0},{"id":"L14","lat":85,"z":11.97},{"id":"L14","lat":90,"z":11.96},
{"id":"T1","lat":20,"z":15.5},{"id":"T1","lat":25,"z":15.25},{"id":"T1","lat":30,"z":14.95},{"id":"T1","lat":35,"z":14.55},{"id":"T1","lat":40,"z":14.1},{"id":"T1","lat":45,"z":13.68},{"id":"T1","lat":50,"z":13.3},{"id":"T1","lat":55,"z":13.0},{"id":"T1","lat":60,"z":12.76},{"id":"T1","lat":65,"z":12.56},{"id":"T1","lat":70,"z":12.44},{"id":"T1","lat":75,"z":12.36},{"id":"T1","lat":80,"z":12.3},{"id":"T1","lat":85,"z":12.27},{"id":"T1","lat":90,"z":12.26},
{"id":"T2","lat":25,"z":15.8},{"id":"T2","lat":30,"z":15.4},{"id":"T2","lat":35,"z":14.95},{"id":"T2","lat":40,"z":14.5},{"id":"T2","lat":45,"z":14.05},{"id":"T2","lat":50,"z":13.65},{"id":"T2","lat":55,"z":13.33},{"id":"T2","lat":60,"z":13.08},{"id":"T2","lat":65,"z":12.87},{"id":"T2","lat":70,"z":12.74},{"id":"T2","lat":75,"z":12.66},{"id":"T2","lat":80,"z":12.6},{"id":"T2","lat":85,"z":12.57},{"id":"T2","lat":90,"z":12.56},
{"id":"T3","lat":30,"z":15.8},{"id":"T3","lat":35,"z":15.35},{"id":"T3","lat":40,"z":14.9},{"id":"T3","lat":45,"z":14.45},{"id":"T3","lat":50,"z":14.0},{"id":"T3","lat":55,"z":13.65},{"id":"T3","lat":60,"z":13.38},{"id":"T3","lat":65,"z":13.17},{"id":"T3","lat":70,"z":13.04},{"id":"T3","lat":75,"z":12.96},{"id":"T3","lat":80,"z":12.9},{"id":"T3","lat":85,"z":12.87},{"id":"T3","lat":90,"z":12.86},
{"id":"T4","lat":35,"z":15.75},{"id":"T4","lat":40,"z":15.3},{"id":"T4","lat":45,"z":14.8},{"id":"T4","lat":50,"z":14.35},{"id":"T4","lat":55,"z":13.98},{"id":"T4","lat":60,"z":13.69},{"id":"T4","lat":65,"z":13.47},{"id":"T4","lat":70,"z":13.34},{"id":"T4","lat":75,"z":13.26},{"id":"T4","lat":80,"z":13.2},{"id":"T4","lat":85,"z":13.17},{"id":"T4","lat":90,"z":13.16},
{"id":"T5","lat":40,"z":15.65},{"id":"T5","lat":45,"z":15.15},{"id":"T5","lat":50,"z":14.7},{"id":"T5","lat":55,"z":14.3},{"id":"T5","lat":60,"z":14.0},{"id":"T5","lat":65,"z":13.77},{"id":"T5","lat":70,"z":13.64},{"id":"T5","lat":75,"z":13.56},{"id":"T5","lat":80,"z":13.5},{"id":"T5","lat":85,"z":13.47},{"id":"T5","lat":90,"z":13.46},
{"id":"T6","lat":45,"z":15.5},{"id":"T6","lat":50,"z":15.05},{"id":"T6","lat":55,"z":14.62},{"id":"T6","lat":60,"z":14.3},{"id":"T6","lat":65,"z":14.07},{"id":"T6","lat":70,"z":13.94},{"id":"T6","lat":75,"z":13.86},{"id":"T6","lat":80,"z":13.8},{"id":"T6","lat":85,"z":13.77},{"id":"T6","lat":90,"z":13.76},
{"id":"T7","lat":50,"z":15.4},{"id":"T7","lat":55,"z":14.95},{"id":"T7","lat":60,"z":14.6},{"id":"T7","lat":65,"z":14.37},{"id":"T7","lat":70,"z":14.24},{"id":"T7","lat":75,"z":14.16},{"id":"T7","lat":80,"z":14.1},{"id":"T7","lat":85,"z":14.07},{"id":"T7","lat":90,"z":14.06},
{"id":"T8","lat":50,"z":15.7},{"id":"T8","lat":55,"z":15.25},{"id":"T8","lat":60,"z":14.88},{"id":"T8","lat":65,"z":14.64},{"id":"T8","lat":70,"z":14.51},{"id":"T8","lat":75,"z":14.43},{"id":"T8","lat":80,"z":14.37},{"id":"T8","lat":85,"z":14.34},{"id":"T8","lat":90,"z":14.33},
{"id":"T9","lat":55,"z":15.55},{"id":"T9","lat":60,"z":15.15},{"id":"T9","lat":65,"z":14.88},{"id":"T9","lat":70,"z":14.75},{"id":"T9","lat":75,"z":14.67},{"id":"T9","lat":80,"z":14.61},{"id":"T9","lat":85,"z":14.58},{"id":"T9","lat":90,"z":14.57},
{"id":"T10","lat":60,"z":15.45},{"id":"T10","lat":65,"z":15.15},{"id":"T10","lat":70,"z":15.02},{"id":"T10","lat":75,"z":14.93},{"id":"T10","lat":80,"z":14.87},{"id":"T10","lat":85,"z":14.84},{"id":"T10","lat":90,"z":14.83}
],
"blk":[
{"id":"U","i":0,"lat":49.19,"z":15},{"id":"U","i":1,"lat":49.32,"z":14.13},{"id":"U","i":2,"lat":49.86,"z":12.93},{"id":"U","i":3,"lat":51.08,"z":11.02},{"id":"U","i":4,"lat":52.57,"z":10.0},{"id":"U","i":5,"lat":52.84,"z":9.34},{"id":"U","i":6,"lat":53.1,"z":8.6},{"id":"U","i":7,"lat":53.65,"z":8.02},{"id":"U","i":8,"lat":55.0,"z":7.6},{"id":"U","i":9,"lat":58.24,"z":7.3},{"id":"U","i":10,"lat":63.65,"z":7.0},{"id":"U","i":11,"lat":68.2,"z":6.91},{"id":"U","i":12,"lat":71.7,"z":6.92},{"id":"U","i":13,"lat":74.13,"z":7.08},{"id":"U","i":14,"lat":76.08,"z":7.42},{"id":"U","i":15,"lat":77.3,"z":7.81},{"id":"U","i":16,"lat":78.1,"z":8.55},{"id":"U","i":17,"lat":78.5,"z":9.3},{"id":"U","i":18,"lat":78.75,"z":10.1},{"id":"U","i":19,"lat":79.15,"z":11.0},{"id":"U","i":20,"lat":81.1,"z":12.1},{"id":"U","i":21,"lat":82.8,"z":13.05},{"id":"U","i":22,"lat":84.5,"z":14.03},{"id":"U","i":23,"lat":85.75,"z":15},
{"id":"P","i":0,"lat":31.49,"z":10.87},{"id":"P","i":1,"lat":30.54,"z":10.03},{"id":"P","i":2,"lat":31.49,"z":9.58},{"id":"P","i":3,"lat":32.16,"z":9.04},{"id":"P","i":4,"lat":32.16,"z":8.02},{"id":"P","i":5,"lat":33.78,"z":7.18},{"id":"P","i":6,"lat":34.86,"z":6.94},{"id":"P","i":7,"lat":36.03,"z":7.01},{"id":"P","i":8,"lat":37.3,"z":7.36},{"id":"P","i":9,"lat":40.08,"z":8.02},{"id":"P","i":10,"lat":39.59,"z":9.04},{"id":"P","i":11,"lat":38.3,"z":9.67},{"id":"P","i":12,"lat":37.16,"z":9.94},{"id":"P","i":13,"lat":34.86,"z":10.19},{"id":"P","i":14,"lat":32.7,"z":10.69},{"id":"P","i":15,"lat":31.49,"z":10.87}
],
"blue":[
{"lat":27.01,"z":15},{"lat":28.13,"z":14.46},{"lat":29.35,"z":13.78},{"lat":30.81,"z":13.01},{"lat":32.51,"z":12.34},{"lat":34.85,"z":11.47},{"lat":37.13,"z":10.89},{"lat":39.57,"z":10.47},{"lat":42.49,"z":10.08},{"lat":46.38,"z":9.74},{"lat":51.74,"z":9.45},{"lat":56.61,"z":9.25},{"lat":61.47,"z":9.2},{"lat":66.34,"z":9.25},{"lat":71.21,"z":9.45},{"lat":76.08,"z":9.6},{"lat":80.94,"z":9.74},{"lat":85.81,"z":9.83},{"lat":90,"z":9.87}
],
"red":[
{"lat":28.13,"z":15},{"lat":29.83,"z":14.17},{"lat":31.29,"z":13.4},{"lat":32.75,"z":12.63},{"lat":34.85,"z":11.86},{"lat":37.13,"z":11.18},{"lat":40.54,"z":10.55},{"lat":44.44,"z":10.08},{"lat":49.3,"z":9.7},{"lat":54.17,"z":9.35},{"lat":59.04,"z":9.06},{"lat":63.91,"z":8.77},{"lat":68.78,"z":8.48},{"lat":73.64,"z":8.23},{"lat":78.51,"z":8.03},{"lat":83.38,"z":7.9},{"lat":85.81,"z":7.84},{"lat":90,"z":7.84}
]
},
"encoding":{
"x":{"field":"lat","type":"quantitative","scale":{"domain":[20,90],"nice":false,"zero":false},"axis":null},
"y":{"field":"lo","type":"quantitative","scale":{"domain":[0,15],"nice":false,"zero":false},"axis":null,"stack":null},
"y2":{"field":"hi"},
"detail":{"field":"s"}
},
"layer":[
{"data":{"name":"fills"},"transform":[{"filter":"datum.lv==='c0'"}],"mark":{"type":"area","color":"#faf3dc","clip":true}},
{"data":{"name":"fills"},"transform":[{"filter":"datum.lv==='y1'"}],"mark":{"type":"area","color":"#fcefbd","clip":true}},
{"data":{"name":"fills"},"transform":[{"filter":"datum.lv==='c0b'"}],"mark":{"type":"area","color":"#faf3dc","clip":true}},
{"data":{"name":"fills"},"transform":[{"filter":"datum.lv==='y2'"}],"mark":{"type":"area","color":"#fbe89a","clip":true}},
{"data":{"name":"fills"},"transform":[{"filter":"datum.lv==='y1b'"}],"mark":{"type":"area","color":"#fcefbd","clip":true}},
{"data":{"name":"fills"},"transform":[{"filter":"datum.lv==='y3'"}],"mark":{"type":"area","color":"#f9e07c","clip":true}},
{"data":{"name":"fills"},"transform":[{"filter":"datum.lv==='y4'"}],"mark":{"type":"area","color":"#f8d864","clip":true}},
{"data":{"name":"fills"},"transform":[{"filter":"datum.lv==='y5'"}],"mark":{"type":"area","color":"#f7cf55","clip":true}},
{"data":{"name":"fills"},"transform":[{"filter":"datum.lv==='y6'"}],"mark":{"type":"area","color":"#f6c345","clip":true}},
{"data":{"name":"fills"},"transform":[{"filter":"datum.lv==='m1'"}],"mark":{"type":"area","color":"#e0f8ee","clip":true}},
{"data":{"name":"fills"},"transform":[{"filter":"datum.lv==='c0c'"}],"mark":{"type":"area","color":"#faf3dc","clip":true}},
{"data":{"name":"fills"},"transform":[{"filter":"datum.lv==='b2'"}],"mark":{"type":"area","color":"#cdf8fc","clip":true}},
{"data":{"name":"fills"},"transform":[{"filter":"datum.lv==='b3'"}],"mark":{"type":"area","color":"#bcf2fa","clip":true}},
{"data":{"name":"fills"},"transform":[{"filter":"datum.lv==='b4'"}],"mark":{"type":"area","color":"#a8ebf8","clip":true}},
{"data":{"name":"fills"},"transform":[{"filter":"datum.lv==='b5'"}],"mark":{"type":"area","color":"#91e1f9","clip":true}},
{"data":{"name":"fills"},"transform":[{"filter":"datum.lv==='b6'"}],"mark":{"type":"area","color":"#7bd2f9","clip":true}},
{"data":{"name":"fills"},"transform":[{"filter":"datum.lv==='b7'"}],"mark":{"type":"area","color":"#63c0f6","clip":true}},
{"data":{"name":"fills"},"transform":[{"filter":"datum.lv==='b8'"}],"mark":{"type":"area","color":"#4caef2","clip":true}},
{"data":{"name":"fills"},"transform":[{"filter":"datum.lv==='b9'"}],"mark":{"type":"area","color":"#3f9bea","clip":true}},
{"data":{"name":"fills"},"transform":[{"filter":"datum.lv==='b10'"}],"mark":{"type":"area","color":"#2f86dd","clip":true}},
{"data":{"name":"fills"},"transform":[{"filter":"datum.lv==='b11'"}],"mark":{"type":"area","color":"#1f70c9","clip":true}},
{"data":{"name":"fills"},"transform":[{"filter":"datum.lv==='b12'"}],"mark":{"type":"area","color":"#155cb3","clip":true}},
{"data":{"name":"fills"},"transform":[{"filter":"datum.lv==='b13'"}],"mark":{"type":"area","color":"#0e4a9a","clip":true}},
{"data":{"name":"fills"},"transform":[{"filter":"datum.lv==='b14'"}],"mark":{"type":"area","color":"#0b3a80","clip":true}},
{"data":{"name":"fills"},"transform":[{"filter":"datum.lv==='b15'"}],"mark":{"type":"area","color":"#092c67","clip":true}},
{"data":{"name":"fills"},"transform":[{"filter":"datum.lv==='b16'"}],"mark":{"type":"area","color":"#071f50","clip":true}},
{"data":{"name":"isen"},"mark":{"type":"line","color":"#c2c4c8","strokeWidth":1.3,"clip":true},
 "encoding":{
  "x":{"field":"lat","type":"quantitative","scale":{"domain":[20,90],"nice":false,"zero":false},
   "axis":{"orient":"bottom","zindex":2,"values":[20,30,40,50,60,70,80,90],"tickSize":22,"tickWidth":1.5,"tickColor":"#555555","domainColor":"#555555","domainWidth":1.5,"labelFontSize":45,"labelColor":"#000000","labelPadding":23,"labelFlush":false,"labelOverlap":false,"title":"Latitude","titleFontSize":46,"titleFontWeight":"normal","titleColor":"#000000","titlePadding":0}},
  "y":{"field":"z","type":"quantitative","scale":{"domain":[0,15],"nice":false,"zero":false},
   "axis":{"orient":"left","zindex":2,"values":[0,5,10,15],"tickSize":40,"tickWidth":1.5,"tickColor":"#555555","domain":true,"domainColor":"#555555","domainWidth":1.5,"labelFontSize":45,"labelColor":"#000000","labelPadding":14,"labelFlush":true,"title":null}},
  "y2":null,
  "detail":{"field":"id"}}},
{"data":{"name":"blk"},"mark":{"type":"line","color":"#222222","strokeWidth":1.4,"clip":true},
 "encoding":{
  "x":{"field":"lat","type":"quantitative","axis":null},
  "y":{"field":"z","type":"quantitative","axis":{"orient":"right","zindex":2,"values":[1,2,3,4,6,7,8,9,11,12,13,14],"tickSize":20,"tickWidth":1.5,"tickColor":"#555555","domain":false,"labels":false,"title":null}},
  "y2":null,
  "order":{"field":"i"},
  "detail":{"field":"id"}}},
{"data":{"name":"blue"},"mark":{"type":"line","color":"#3a98e3","strokeWidth":5.5,"clip":true},
 "encoding":{
  "x":{"field":"lat","type":"quantitative","axis":null},
  "y":{"field":"z","type":"quantitative","axis":{"orient":"left","zindex":2,"values":[1,2,3,4,6,7,8,9,11,12,13,14],"tickSize":20,"tickWidth":1.5,"tickColor":"#555555","domain":true,"domainColor":"#555555","domainWidth":1.5,"labels":false,"title":null}},
  "y2":null,"detail":null}},
{"data":{"name":"red"},"mark":{"type":"line","color":"#cc0000","strokeWidth":5.5,"clip":true},
 "encoding":{
  "x":{"field":"lat","type":"quantitative","axis":{"orient":"top","zindex":2,"values":[20,30,40,50,60,70,80,90],"tickSize":12,"tickWidth":1.5,"tickColor":"#555555","domainColor":"#555555","domainWidth":1.5,"labels":false,"title":null}},
  "y":{"field":"z","type":"quantitative","axis":{"orient":"right","zindex":2,"values":[0,5,10,15],"tickSize":40,"tickWidth":1.5,"tickColor":"#555555","domainColor":"#555555","domainWidth":1.5,"labels":false,"title":null}},
  "y2":null,"detail":null}}
]
}
